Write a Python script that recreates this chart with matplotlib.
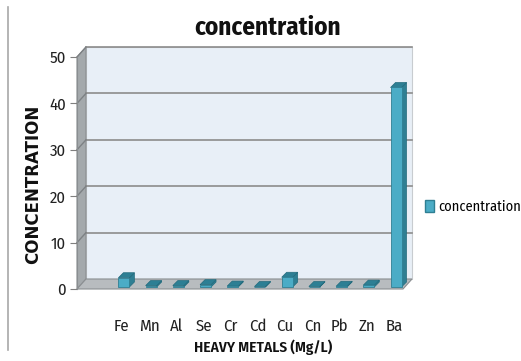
import matplotlib
matplotlib.use("Agg")
import matplotlib.pyplot as plt
from matplotlib.patches import Polygon, Patch
from matplotlib.lines import Line2D

metals = ["Fe", "Mn", "Al", "Se", "Cr", "Cd", "Cu", "Cn", "Pb", "Zn", "Ba"]
concentration = [2.0, 0.3, 0.3, 0.5, 0.2, 0.1, 2.1, 0.1, 0.15, 0.4, 43.0]
y_ticks = [0, 10, 20, 30, 40, 50]

NARROW = ["Fira Sans Condensed", "PT Sans Narrow", "Roboto Condensed",
          "Carlito", "DejaVu Sans"]

W, H = 521, 361
fig = plt.figure(figsize=(W / 100, H / 100), dpi=100)

# front plane of the plot area, in pixels
L, R, B, T = 77, 403, 289, 57
ax = fig.add_axes([L / W, 1 - B / H, (R - L) / W, (B - T) / H])
xmin, xmax = -1.65, 10.33
ymin, ymax = 0, 50
ax.set_xlim(xmin, xmax)
ax.set_ylim(ymin, ymax)
sx = (xmax - xmin) / (R - L)   # data units per pixel
sy = (ymax - ymin) / (B - T)
dx, dy = 9 * sx, 10 * sy       # wall depth

wall_c = "#e8eff7"
side_c = "#a4a9ac"
floor_c = "#b8bcbf"
edge_c = "#8a8e91"
grid_c = "#8c8c8c"

def poly(pts, fc, ec=None, lw=0.8, z=1):
    ax.add_patch(Polygon(pts, closed=True, facecolor=fc,
                         edgecolor=ec if ec else fc, lw=lw,
                         clip_on=False, zorder=z))

# back wall
poly([(xmin + dx, dy), (xmax + dx, dy), (xmax + dx, ymax + dy),
      (xmin + dx, ymax + dy)], wall_c, "#c8ccd0", z=0.5)
# side wall
poly([(xmin, 0), (xmin + dx, dy), (xmin + dx, ymax + dy), (xmin, ymax)],
     side_c, edge_c, z=0.6)
# gridlines on back wall and side wall
for v in y_ticks[1:]:
    ax.plot([xmin + dx, xmax + dx], [v + dy, v + dy], color=grid_c, lw=1.2,
            clip_on=False, zorder=0.7)
    ax.plot([xmin, xmin + dx], [v, v + dy], color="#7d8184", lw=1.0,
            clip_on=False, zorder=0.7)
# floor
poly([(xmin, 0), (xmax, 0), (xmax + dx, dy), (xmin + dx, dy)],
     floor_c, edge_c, z=0.8)

# 3D columns
front_c = "#4bacc6"
side_bar_c = "#2f7f93"
top_bar_c = "#2d7f94"
w = 11 * sx
bx, by = 2 * sx, 2 * sy
ddx, ddy = 5 * sx, 5 * sy
for i, v in enumerate(concentration):
    x0 = i - w / 2 + bx
    x1 = i + w / 2 + bx
    y0 = by
    y1 = by + v
    poly([(x1, y0), (x1 + ddx, y0 + ddy), (x1 + ddx, y1 + ddy), (x1, y1)],
         side_bar_c, "#236b7d", lw=0.5, z=2)
    poly([(x0, y1), (x1, y1), (x1 + ddx, y1 + ddy), (x0 + ddx, y1 + ddy)],
         top_bar_c, "#236b7d", lw=0.5, z=2.1)
    poly([(x0, y0), (x1, y0), (x1, y1), (x0, y1)],
         front_c, "#2f7f93", lw=0.6, z=2.2)

for s in ["top", "right", "bottom"]:
    ax.spines[s].set_visible(False)
ax.spines["left"].set_color(edge_c)
ax.patch.set_visible(False)

ax.set_yticks(y_ticks)
ax.set_yticklabels([str(v) for v in y_ticks], family=NARROW, fontsize=12)
ax.tick_params(axis="y", direction="out", length=5, color="#7f7f7f",
               pad=3, labelcolor="#222222")
ax.set_xticks(range(len(metals)))
ax.set_xticklabels(metals, family=NARROW, fontsize=12)
ax.tick_params(axis="x", length=0, pad=21, labelcolor="#222222")

fig.text(268 / W, 1 - 28 / H, "concentration", ha="center", va="center",
         fontsize=18, fontweight="bold", family=NARROW, color="#111111")
fig.text(33 / W, 1 - 184 / H, "CONCENTRATION", rotation=90, ha="center",
         va="center", fontsize=12, fontweight="bold", family="DejaVu Sans",
         color="#111111")
fig.text(263 / W, 1 - 347 / H, "HEAVY METALS (Mg/L)", ha="center",
         va="center", fontsize=11, fontweight=600, family=NARROW,
         color="#111111")

leg = ax.legend(handles=[Patch(facecolor=front_c, edgecolor="#2f7f93")],
                labels=["concentration"], loc="center left",
                bbox_to_anchor=((425 - L) / (R - L), (B - 207) / (B - T)),
                frameon=False, handlelength=0.6, handleheight=0.9,
                handletextpad=0.3, borderpad=0, borderaxespad=0,
                prop={"family": NARROW, "size": 10.3})

fig.add_artist(Line2D([8 / W, 8 / W], [1 - 7 / H, 1 - 350 / H],
                      color="#a8a8a8", lw=1.2))

fig.savefig("out.png", dpi=100)
